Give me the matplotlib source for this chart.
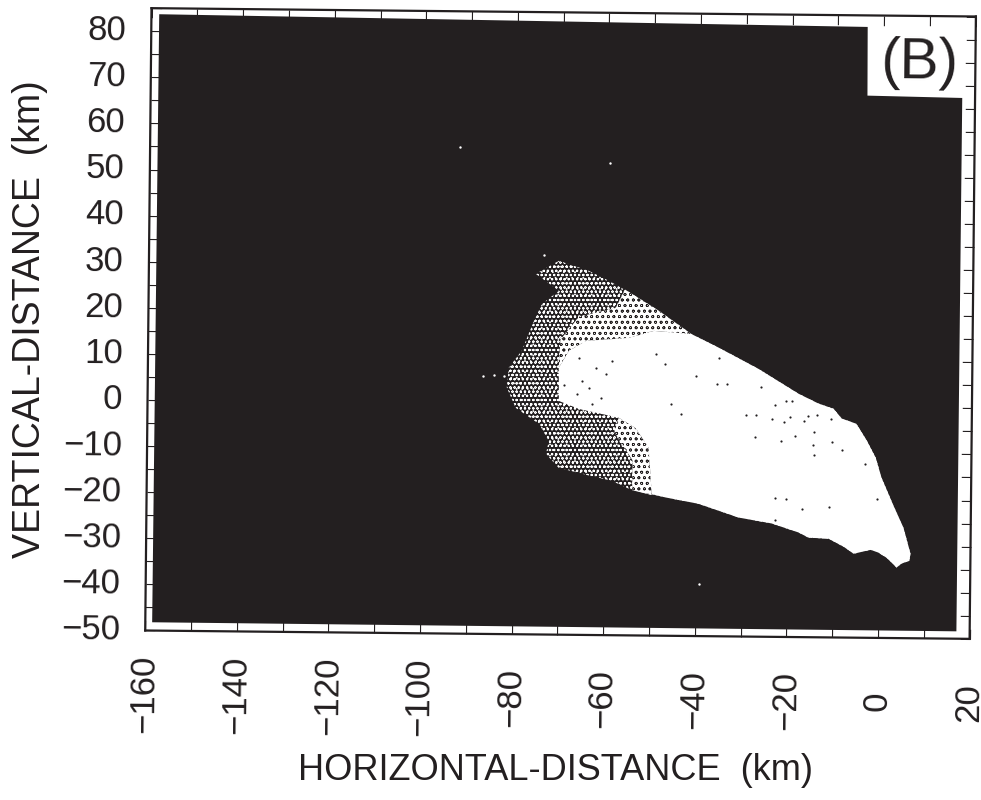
#!/usr/bin/env python3
"""Scanned scatter plot (B): horizontal vs vertical distance, slightly rotated on the page."""

import matplotlib
matplotlib.use("Agg")
import matplotlib.pyplot as plt
from matplotlib.patches import Polygon
from matplotlib.transforms import Affine2D
import mpl_toolkits.axisartist.floating_axes as floating_axes
from mpl_toolkits.axisartist.grid_finder import FixedLocator, DictFormatter

INK = "#231f20"

x_ticks = list(range(-160, 21, 10))
y_ticks = list(range(-50, 86, 5))
x_labels = {v: str(v).replace("-", "\u2212") for v in range(-160, 21, 20)}
y_labels = {v: str(v).replace("-", "\u2212") for v in range(-50, 81, 10)}

# dark background with the white notch for the panel letter (km)
dark_x = [-158.3, -3.6, -3.5, 17.2, 17.1, -158.5]
dark_y = [83.7, 82.5, 67.6, 67.3, -48.4, -48.2]

# upper edge of the cloud, then round the tip and back along the lower edge
edge_x = [-70.5, -64.0, -59.6, -54.5, -48.6, -41.4, -35.4, -26.7, -17.9, -13.5, -10.2, -8.4,
          -5.2, -2.9, -0.9, 0.4, 3.1, 5.3, 6.9, 6.7, 5.0, 3.9, 1.7, -0.1, -1.8, -5.5, -7.7,
          -11.0, -15.4, -17.6, -23.5, -30.7, -39.5, -46.7, -54.7, -58.5, -63.5, -70.1]
edge_y = [31.1, 29.0, 26.9, 24.1, 20.5, 15.5, 12.6, 8.1, 2.8, 0.7, -0.4, -2.5,
          -3.6, -7.2, -10.9, -15.2, -21.3, -26.0, -31.6, -33.2, -33.8, -34.7, -32.6, -31.5, -30.9, -31.8, -30.3,
          -28.6, -28.4, -27.3, -25.4, -24.2, -21.3, -20.0, -18.2, -16.5, -15.4, -13.8]

# thin spray on the left side, going from the bottom up
spray_x = [-72.9, -72.3, -74.5, -79.6, -81.6, -81.2, -78.4, -75.8, -74.1, -70.4, -75.5]
spray_y = [-10.8, -8.0, -4.3, -0.9, 3.5, 7.8, 11.5, 18.0, 21.7, 24.6, 28.2]

# left limit of the nearly solid part
core_x = [-49.7, -50.5, -53.4, -57.1, -65.8, -70.2, -70.3, -68.1, -64.4, -55.1, -49.6]
core_y = [-19.5, -9.2, -5.0, -2.8, -1.0, 0.7, 7.9, 11.6, 13.8, 14.5, 16.1]

# lighter stipple above and below the core
upper_band_x = [-56.0, -54.5, -48.6, -41.4, -49.6, -55.1, -64.4, -68.1, -70.3, -70.0, -66.0, -58.0]
upper_band_y = [25.0, 24.1, 20.5, 15.5, 16.1, 14.5, 13.8, 11.6, 7.9, 14.0, 19.0, 21.0]
lower_band_x = [-57.1, -53.4, -50.5, -49.7, -54.0, -54.0, -58.0]
lower_band_y = [-2.8, -5.0, -9.2, -19.5, -18.5, -12.0, -6.0]

# single dark specks inside the white area
speck_x = [-26, -20.7, -19.2, -23.1, -29.4, -27.2, -23.7, -19.8, -15.7, -13.9, -10.8, -20.9, -16.7,
           -14.5, -18.5, -27.2, -21.7, -14.7, -10.4, -8.2, -14.3, -3.3, -22.9, -20.5, -16.8, -10.9,
           -0.6, -22.8, -49, -47, -40.4, -35.4, -45.8, -43.6, -35.8, -33.6, -66, -62.2, -58.7, -63.7,
           -69.2, -60.9, -66.3, -63, -65.2, -60]
speck_y = [4.2, 1.2, 1.3, 0.4, -1.9, -1.9, -2.7, -2.2, -2.1, -1.7, -2.6, -3.3, -3.2,
           -5.4, -6.3, -6.6, -7.6, -8.2, -7.5, -9.3, -10.4, -12.2, -19.8, -20, -22.1, -21.8,
           -19.8, -24.6, 11.1, 9, 6.5, 10.4, 0.3, -1.8, 4.8, 4.8, 10.1, 8, 9.5, 3.6,
           4.2, 1.5, 2.3, 0.2, 5.1, 6.7]

# stray white points on the dark background
stray_x = [-92.4, -59.6, -39.3, -86.8, -84.4, -82.2, -73.8]
stray_y = [55.6, 52.4, -38.6, 6.0, 6.1, 6.0, 32.3]

plt.rcParams["font.family"] = ["Liberation Sans", "DejaVu Sans"]
plt.rcParams["hatch.linewidth"] = 0.5

fig = plt.figure(figsize=(9.81, 8.0), dpi=100)

# page is turned a bit clockwise, scale is in pixels per km
page = Affine2D().scale(4.585, 4.615).rotate_deg(-0.58)
helper = floating_axes.GridHelperCurveLinear(
    page, extremes=(-160, 20, -50, 85),
    grid_locator1=FixedLocator(x_ticks), grid_locator2=FixedLocator(y_ticks),
    tick_formatter1=DictFormatter(x_labels), tick_formatter2=DictFormatter(y_labels))
# floating axes keep a small margin inside the rect, so it is a bit larger than the frame
ax = fig.add_axes([136.9 / 981, 1 - 647 / 800, 847.3 / 981, 647 / 800],
                  axes_class=floating_axes.FloatingAxes, grid_helper=helper)
aux = ax.get_aux_axes(page)

for side in ["left", "right", "top", "bottom"]:
    ax.axis[side].line.set_linewidth(1.6)
    ax.axis[side].line.set_color(INK)
    ax.axis[side].major_ticks.set_ticksize(7)
    ax.axis[side].major_ticks.set_linewidth(1.3)
    ax.axis[side].major_ticks.set_color(INK)
ax.axis["top"].major_ticklabels.set_visible(False)
ax.axis["right"].major_ticklabels.set_visible(False)

ax.axis["left"].major_ticklabels.set_fontsize(25)
ax.axis["left"].major_ticklabels.set_color(INK)
ax.axis["left"].major_ticklabels.set_pad(18)
ax.axis["bottom"].major_ticklabels.set_fontsize(25)
ax.axis["bottom"].major_ticklabels.set_color(INK)
ax.axis["bottom"].major_ticklabels.set_rotation(90)
ax.axis["bottom"].major_ticklabels.set_va("center")
ax.axis["bottom"].major_ticklabels.set_pad(37)

aux.add_patch(Polygon(list(zip(dark_x, dark_y)), facecolor=INK, edgecolor="none", zorder=1))

# whole cloud as stipple, lighter next to the core
body_x = spray_x + edge_x
body_y = spray_y + edge_y
aux.add_patch(Polygon(list(zip(body_x, body_y)), facecolor=INK, edgecolor="white",
                      linewidth=0, hatch="oooo...", zorder=2))
aux.add_patch(Polygon(list(zip(upper_band_x, upper_band_y)), facecolor="white", edgecolor=INK,
                      linewidth=0, hatch="ooo", zorder=3))
aux.add_patch(Polygon(list(zip(lower_band_x, lower_band_y)), facecolor="white", edgecolor=INK,
                      linewidth=0, hatch="ooo", zorder=3))
core_poly_x = core_x + edge_x[5:35]
core_poly_y = core_y + edge_y[5:35]
aux.add_patch(Polygon(list(zip(core_poly_x, core_poly_y)), facecolor="white", edgecolor="none", zorder=4))

aux.scatter(speck_x, speck_y, s=2.5, color=INK, linewidths=0, zorder=5)
aux.scatter(stray_x, stray_y, s=3, color="white", linewidths=0, zorder=5)

aux.text(7.8, 74.7, "(B)", fontsize=42, color=INK, ha="center", va="center", rotation=-0.6, zorder=6)

fig.text(555 / 981, 1 - 771 / 800, "HORIZONTAL-DISTANCE  (km)", fontsize=26, color=INK,
         ha="center", va="center")
fig.text(30 / 981, 1 - 319 / 800, "VERTICAL-DISTANCE  (km)", fontsize=27, color=INK,
         rotation=90, ha="center", va="center")

fig.savefig("out.png", dpi=100)
